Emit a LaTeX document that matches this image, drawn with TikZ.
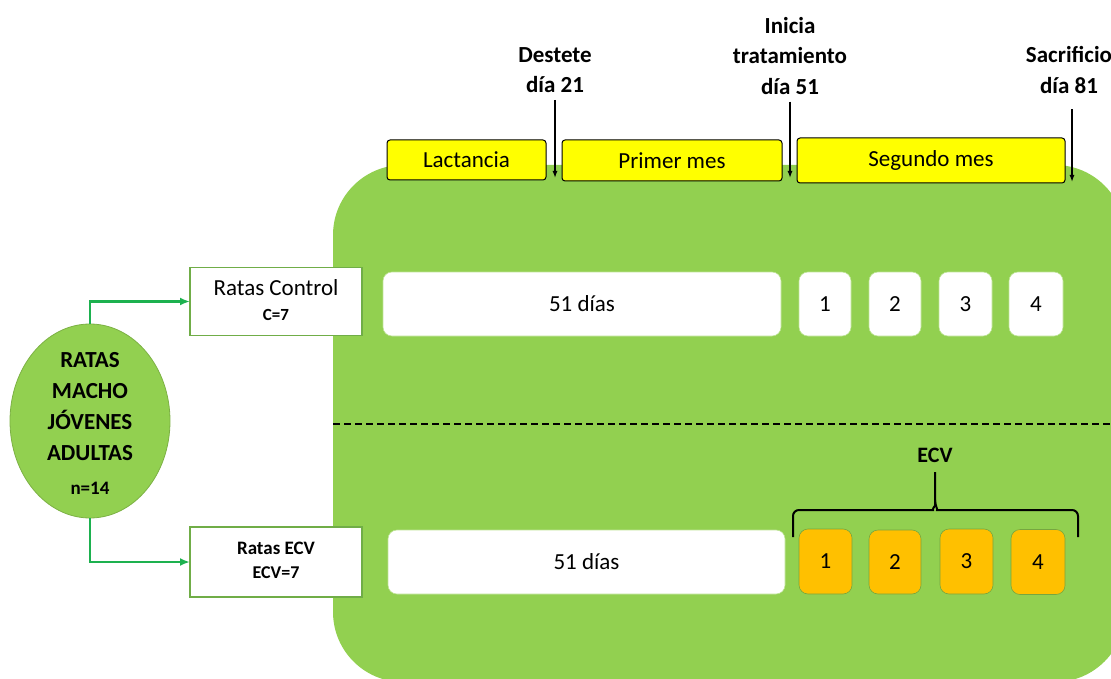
\documentclass[tikz,border=0pt]{standalone}
\usepackage{fontspec}
\setmainfont{Carlito}
\usetikzlibrary{arrows.meta,shapes.geometric}
\definecolor{lgreen}{HTML}{92D050}
\definecolor{dgreen}{HTML}{1DB14F}
\definecolor{bgreen}{HTML}{70AD47}
\definecolor{orng}{HTML}{FFC000}
\definecolor{ylw}{HTML}{FFFF00}
\begin{document}
\begin{tikzpicture}[x=1pt,y=-1pt,
 every node/.style={inner sep=0pt, outer sep=0pt, align=center},
 period/.style={draw=black, line width=1pt, fill=ylw, rounded corners=3pt, font=\fontsize{23}{27}\selectfont},
 wbox/.style={fill=white, draw=lgreen!60!white, line width=0.6pt, rounded corners=9pt, font=\fontsize{23}{27}\selectfont},
 obox/.style={fill=orng, draw=lgreen!80!black, line width=0.6pt, rounded corners=9pt, font=\fontsize{23}{27}\selectfont},
 groupbox/.style={fill=white, draw=bgreen, line width=1.5pt, minimum width=172, minimum height=68},
 event/.style={font=\bfseries\fontsize{23}{30.5}\selectfont},
 evarrow/.style={-{Latex[length=7pt,width=5pt]}, line width=1.3pt},
 garrow/.style={dgreen, line width=2.2pt, -{Latex[length=10pt,width=8pt]}}
]
\path[use as bounding box] (0,0) rectangle (1111,679);
\clip (0,0) rectangle (1111,679);

% big green panel
\fill[lgreen, rounded corners=70pt] (333,165) rectangle (1125,682);

% period boxes
\node[period, minimum width=159, minimum height=40] (lact) at (466.5,160) {Lactancia};
\node[period, minimum width=220, minimum height=41] (mes1) at (672,160.5) {Primer mes};
\node[period, minimum width=268, minimum height=45] (mes2) at (931,160.5) {\raisebox{-3pt}{Segundo mes}};

% events
\node[event] (destete) at (555,70) {Destete\\día 21};
\node[event] (inicia) at (790,56) {Inicia\\tratamiento\\día 51};
\node[event] (sacrif) at (1069,70) {Sacrificio\\día 81};
\coordinate (d21) at (555,178);
\coordinate (d51) at (790,178);
\coordinate (d81) at (1072,182);
\draw[evarrow, shorten <=7pt] (destete.south) -- (d21);
\draw[evarrow, shorten <=7pt] (inicia.south) -- (d51);
\draw[evarrow, shorten <=16pt] (sacrif.south -| d81) -- (d81);

% control row
\node[wbox, minimum width=398, minimum height=64] (c51) at (582,304) {51 días};
\node[wbox, minimum width=52, minimum height=64] (c1) at (825,304) {1};
\node[wbox, minimum width=52, minimum height=64] (c2) at (895,304) {2};
\node[wbox, minimum width=53, minimum height=64] (c3) at (965.5,304) {3};
\node[wbox, minimum width=54, minimum height=64] (c4) at (1036,304) {4};

% dashed separator
\coordinate (sepL) at (333,424);
\coordinate (sepR) at (1111,424);
\draw[line width=2pt, dash pattern=on 7pt off 4pt] (sepL) -- (sepR);

% ECV row
\node[wbox, minimum width=397, minimum height=64] (e51) at (586.5,562) {51 días};
\node[obox, minimum width=53, minimum height=65] (e1) at (825.5,561.5) {1};
\node[obox, minimum width=52, minimum height=64] (e2) at (895,562) {2};
\node[obox, minimum width=53, minimum height=65] (e3) at (966.5,561.5) {3};
\node[obox, minimum width=54, minimum height=65] (e4) at (1038,562) {4};

% brace
\node[font=\bfseries\fontsize{22}{26}\selectfont] (ecvlab) at (935,455) {ECV};
\coordinate (bl) at (793,537);
\coordinate (br) at (1078,537);
\coordinate (bm) at (935,472);
\draw[line width=2pt, rounded corners=6pt] (bl) -- (793,510) -- (927,510) to[out=0,in=-90] (935,500) -- (bm);
\draw[line width=2pt, rounded corners=6pt] (br) -- (1078,510) -- (943,510) to[out=180,in=-90] (935,500);

% group boxes
\node[groupbox] (ctrl) at (276,301.5) {};
\node[font=\fontsize{23}{27}\selectfont] (ctrlA) at (276,288) {Ratas Control};
\node[font=\bfseries\fontsize{17}{20}\selectfont] (ctrlB) at (276,315) {C=7};
\node[groupbox, minimum height=70] (ecv) at (276,562) {};
\node[font=\bfseries\fontsize{19}{22}\selectfont] (ecvA) at (276,548) {Ratas ECV};
\node[font=\bfseries\fontsize{18}{20}\selectfont] (ecvB) at (276,573) {ECV=7};

% rats ellipse
\node[ellipse, fill=lgreen, draw=lgreen!85!black, line width=0.8pt, minimum width=160, minimum height=194] (rats) at (90,421) {};
\node[font=\bfseries\fontsize{23}{31}\selectfont] (ratstxt) at (90,423) {RATAS\\MACHO\\JÓVENES\\ADULTAS\\[3pt]{\fontsize{19}{22}\selectfont n=14}};

% connectors
\draw[garrow] (rats.north) |- (ctrl.west);
\draw[garrow] (rats.south) |- (ecv.west);
\end{tikzpicture}
\end{document}
